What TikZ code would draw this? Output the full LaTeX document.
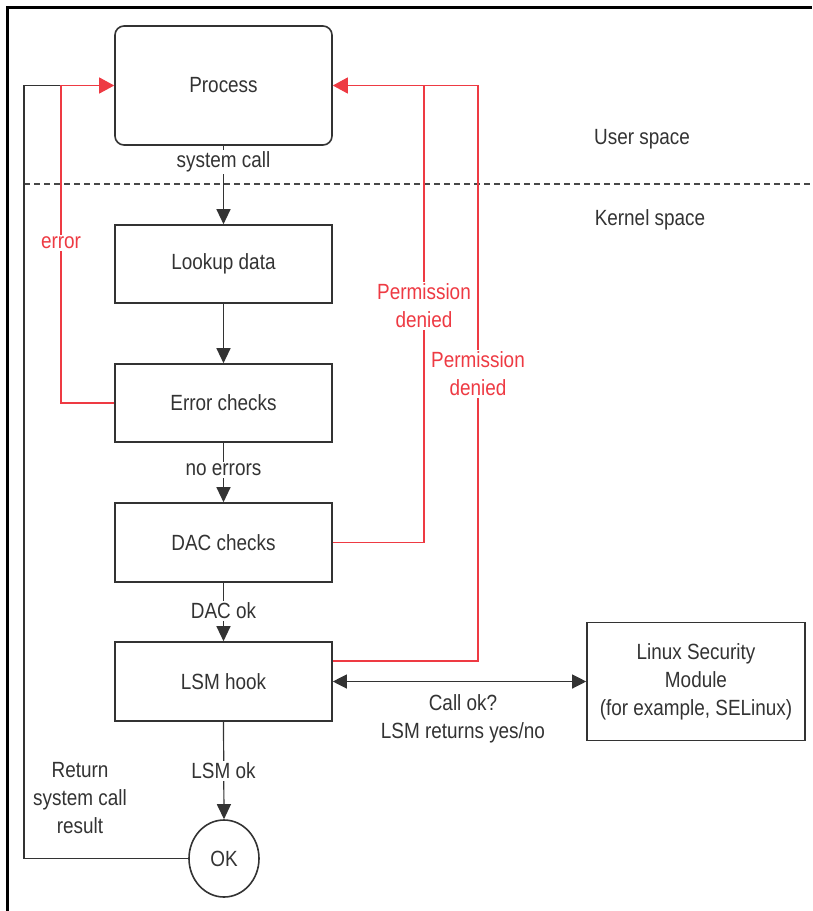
\documentclass[tikz,border=0pt]{standalone}
\usepackage{fontspec}
\setmainfont[FakeStretch=0.86]{Liberation Sans}
\usetikzlibrary{arrows.meta,shapes.geometric}
\definecolor{ink}{HTML}{333333}
\definecolor{redline}{HTML}{EE3A43}
\begin{document}
\begin{tikzpicture}[x=1pt,y=-1pt,
  every node/.style={font=\fontsize{22}{28}\selectfont, text=ink},
  box/.style={draw=ink, line width=1.6pt, minimum width=217pt, align=center, inner sep=0pt},
  flow/.style={draw=ink, line width=1.2pt, -{Triangle[length=15pt,width=14pt]}},
  back/.style={draw=redline, line width=1.2pt},
  backarr/.style={back, -{Triangle[length=15pt,width=16pt]}},
  lbl/.style={fill=white, inner sep=2pt, align=center},
  rlbl/.style={lbl, text=redline}]
\useasboundingbox (0,0) rectangle (812,911);
\fill[white] (0,0) rectangle (812,911);
% frame
\draw[black, line width=3pt] (7,911) -- (7,7) -- (812,7);
% nodes
\node[box, rounded corners=9pt, minimum height=119pt] (proc) at (223.5,85.5) {Process};
\node[box, minimum height=78pt] (lookup) at (223.5,264) {Lookup data};
\node[box, minimum height=78pt] (err) at (223.5,403) {Error checks};
\node[box, minimum height=79pt] (dac) at (223.5,542.5) {DAC checks};
\node[box, minimum height=79pt] (lsm) at (223.5,681.5) {LSM hook};
\node[draw=ink, line width=1.6pt, ellipse, minimum width=70pt, minimum height=77pt, inner sep=0pt] (ok) at (224,858.5) {OK};
\node[box, minimum width=218pt, minimum height=118pt] (lsmod) at (696,681.5) {Linux Security\\Module\\(for example, SELinux)};
% space separator
\draw[draw=ink!90, line width=1.3pt, dash pattern=on 6pt off 4pt] (24,184) -- (812,184);
\node (user) at (642,139) {User space};
\node (kernel) at (650,220) {Kernel space};
% main flow
\draw[flow] (proc.south) -- (lookup.north);
\node[lbl] (sc) at (223.5,162) {system call};
\draw[flow] (lookup.south) -- (err.north);
\draw[flow] (err.south) -- (dac.north);
\node[lbl] (noerr) at (223.5,470) {no errors};
\draw[flow] (dac.south) -- (lsm.north);
\node[lbl] (dacok) at (223.5,611) {DAC ok};
\draw[flow] (lsm.south) -- (ok.north);
\node[lbl] (lsmok) at (223.5,771) {LSM ok};
% return path
\coordinate (rb) at (24,858.5);
\coordinate (rt) at (24,85.5);
\coordinate (et) at (61,85.5);
\coordinate (eb) at (61,403);
\draw[draw=ink, line width=1.2pt] (ok.west) -- (rb) -- (rt) -- (et);
\node[lbl, align=center] (ret) at (80,798) {Return\\system call\\result};
% error path
\draw[backarr] (err.west) -- (eb) -- (et) -- (proc.west);
\node[rlbl] (errl) at (61,243) {error};
% DAC denied
\coordinate (db) at (424,542.5);
\coordinate (dt) at (424,85.5);
\draw[backarr] (dac.east) -- (db) -- (dt) -- (proc.east);
\node[rlbl] (dacl) at (424,306) {Permission\\denied};
% LSM denied
\coordinate (ls) at (lsm.east |- 0,661);
\coordinate (lb) at (478,661);
\coordinate (lt) at (478,85.5);
\draw[back] (ls) -- (lb) -- (lt) -- (dt);
\node[rlbl] (lsml) at (478,374) {Permission\\denied};
% LSM query
\draw[draw=ink, line width=1.2pt, {Triangle[length=14pt,width=14pt]}-{Triangle[length=14pt,width=14pt]}] (lsm.east) -- (lsmod.west);
\node[align=center] (q) at (463,719) {Call ok?\\LSM returns yes/no};
\end{tikzpicture}
\end{document}
